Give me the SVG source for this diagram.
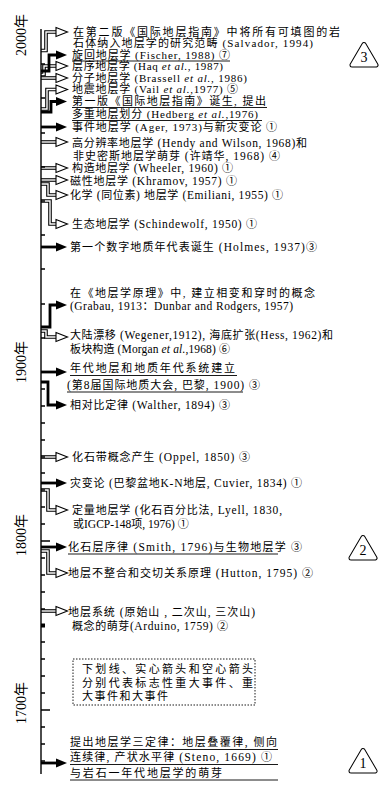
<svg xmlns="http://www.w3.org/2000/svg" xmlns:xlink="http://www.w3.org/1999/xlink" width="390" height="794" viewBox="0 0 390 794">
<style>
.t{font-family:"Liberation Serif","Noto Sans CJK SC",serif;font-size:11px;fill:#000}
.l{font-size:11.5px}
.s{font-size:11px}
.it{font-style:italic}
.yr{font-family:"Liberation Serif","Noto Sans CJK SC",serif;font-size:14px;fill:#000}
.num{font-family:"Liberation Serif",serif;font-size:14px;fill:#000}
.ax{stroke:#000;stroke-width:1.4;fill:none}
.so{stroke:#000;stroke-width:2.8;fill:none}
.ho{stroke:#000;stroke-width:3.6;fill:none}
.hi{stroke:#fff;stroke-width:1.4;fill:none}
.ul{stroke:#000;stroke-width:0.9;fill:none}
.box{fill:none;stroke:#000;stroke-width:0.9;stroke-dasharray:1.5 1.5}
.tro{fill:#fff;stroke:#000;stroke-width:5;stroke-linejoin:round}
.tri{fill:#fff;stroke:#fff;stroke-width:3;stroke-linejoin:round}
</style>
<defs>
<polygon id="hh" points="0,-4.5 11.5,0 0,4.5" fill="#fff" stroke="#000" stroke-width="1.1"/>
<polygon id="sh" points="0,-4.5 11,0 0,4.5" fill="#000"/>
<polygon id="tri" points="0,-10.5 12,10 -12,10"/>
</defs>
<rect width="390" height="794" fill="#fff"/>

<g id="year-labels">
<text class="yr" transform="translate(26,35) rotate(-90)" text-anchor="middle">2000年</text>
<text class="yr" transform="translate(26,362) rotate(-90)" text-anchor="middle">1900年</text>
<text class="yr" transform="translate(26,535) rotate(-90)" text-anchor="middle">1800年</text>
<text class="yr" transform="translate(26,703) rotate(-90)" text-anchor="middle">1700年</text>
</g>

<g id="connectors">
<g id="hollow-shafts-outer" class="ho">
<path id="c1" d="M41 50.5H46V32H56"/>
<path id="c3" d="M41 74.5H44V66H56"/>
<path id="c4" d="M41 78H56"/>
<path id="c5" d="M41 109H47V89.5H56"/>
<path id="c8" d="M41 142H56"/>
<path id="c9" d="M41 168H56"/>
<path id="c10" d="M41 180H56"/>
<path id="c11" d="M41 184H48V195H56"/>
<path id="c12" d="M41 201H50V224H56"/>
<path id="c15" d="M41 331H46V337H56"/>
<path id="c18" d="M41 457H56"/>
<path id="c20" d="M41 490H48V510H56"/>
<path id="c22" d="M41 551H48V573H56"/>
<path id="c23" d="M41 611H56"/>
</g>
<g id="hollow-shafts-inner" class="hi">
<use xlink:href="#c1"/><use xlink:href="#c3"/><use xlink:href="#c4"/><use xlink:href="#c5"/>
<use xlink:href="#c8"/><use xlink:href="#c9"/><use xlink:href="#c10"/><use xlink:href="#c11"/>
<use xlink:href="#c12"/><use xlink:href="#c15"/><use xlink:href="#c18"/><use xlink:href="#c20"/>
<use xlink:href="#c22"/><use xlink:href="#c23"/>
</g>
<g id="solid-shafts" class="so">
<path d="M41 71H49V55H56"/>
<path d="M41 112H51V101.5H56"/>
<path d="M41 127H56"/>
<path d="M41 247H56"/>
<path d="M41 327H50V305H56"/>
<path d="M41 372H56"/>
<path d="M41 382H48V405H56"/>
<path d="M41 483H56"/>
<path d="M41 547H56"/>
<path d="M41 763H56"/>
</g>
<g id="heads">
<use xlink:href="#hh" x="56" y="32"/>
<use xlink:href="#sh" x="56" y="55"/>
<use xlink:href="#hh" x="56" y="66"/>
<use xlink:href="#hh" x="56" y="78"/>
<use xlink:href="#hh" x="56" y="89.5"/>
<use xlink:href="#sh" x="56" y="101.5"/>
<use xlink:href="#sh" x="56" y="127"/>
<use xlink:href="#hh" x="56" y="142"/>
<use xlink:href="#hh" x="56" y="168"/>
<use xlink:href="#hh" x="56" y="180"/>
<use xlink:href="#hh" x="56" y="195"/>
<use xlink:href="#hh" x="56" y="224"/>
<use xlink:href="#sh" x="56" y="247"/>
<use xlink:href="#sh" x="56" y="305"/>
<use xlink:href="#hh" x="56" y="337"/>
<use xlink:href="#sh" x="56" y="372"/>
<use xlink:href="#sh" x="56" y="405"/>
<use xlink:href="#hh" x="56" y="457"/>
<use xlink:href="#sh" x="56" y="483"/>
<use xlink:href="#hh" x="56" y="510"/>
<use xlink:href="#sh" x="56" y="547"/>
<use xlink:href="#hh" x="56" y="573"/>
<use xlink:href="#hh" x="56" y="611"/>
<use xlink:href="#sh" x="56" y="763"/>
</g>
</g>

<g id="axis">
<path class="ax" d="M41 29V774"/>
<path class="ax" stroke-width="1.1" d="M41 64H45M41 98H45M41 133H45M41 167H45M41 201H45M41 235H45M41 269H45M41 304H45M41 338H45
M41 389H45M41 406H45M41 423H45M41 440H45M41 457H45M41 473H45M41 490H45M41 507H45M41 524H45M41 558H45M41 575H45M41 592H45M41 609H45M41 642H45M41 659H45M41 676H45M41 693H45M41 727H45M41 744H45M41 761H45"/>
<path class="ax" d="M41 541H50M41 710H50"/>
<rect x="41" y="623.5" width="4" height="4" fill="#000"/>
</g>

<g id="n-salvador"><text class="t" x="73" y="35.5" textLength="267" lengthAdjust="spacing">在第二版《国际地层指南》中将所有可填图的岩</text><text class="t" x="73" y="47" textLength="240" lengthAdjust="spacing">石体纳入地层学的研究范畴<tspan class="s"> (Salvador, 1994)</tspan></text></g>
<g id="n-fischer"><text class="t" x="72" y="58.5" textLength="158" lengthAdjust="spacing">旋回地层学<tspan class="s"> (Fischer, 1988) </tspan>⑦</text><path class="ul" d="M72 61H230"/></g>
<g id="n-haq"><text class="t" x="72" y="70" textLength="151" lengthAdjust="spacing">层序地层学<tspan class="s"> (Haq <tspan class="it">et al.</tspan>, 1987)</tspan></text></g>
<g id="n-brassell"><text class="t" x="72" y="81.5" textLength="175" lengthAdjust="spacing">分子地层学<tspan class="s"> (Brassell <tspan class="it">et al.</tspan>, 1986)</tspan></text></g>
<g id="n-vail"><text class="t" x="72" y="93" textLength="166" lengthAdjust="spacing">地震地层学<tspan class="s"> (Vail <tspan class="it">et al.</tspan>,1977) </tspan>⑤</text></g>
<g id="n-hedberg"><text class="t" x="72" y="105" textLength="194" lengthAdjust="spacing">第一版《国际地层指南》诞生, 提出</text><path class="ul" d="M72 107.5H267"/><text class="t" x="72" y="118" textLength="186" lengthAdjust="spacing">多重地层划分<tspan class="s"> (Hedberg <tspan class="it">et al.</tspan>,1976)</tspan></text><path class="ul" d="M72 120.5H262"/></g>
<g id="n-ager"><text class="t" x="72" y="130.5" textLength="205" lengthAdjust="spacing">事件地层学<tspan class="s"> (Ager, 1973)</tspan>与新灾变论 ①</text></g>
<g id="n-hendy"><text class="t" x="72" y="146.5" textLength="235" lengthAdjust="spacing">高分辨率地层学<tspan class="l"> (Hendy and Wilson, 1968)</tspan>和</text><text class="t" x="73" y="160" textLength="207" lengthAdjust="spacing">非史密斯地层学萌芽<tspan class="l"> (</tspan>许靖华<tspan class="l">, 1968) </tspan>④</text></g>
<g id="n-wheeler"><text class="t" x="72" y="172" textLength="161" lengthAdjust="spacing">构造地层学<tspan class="l"> (Wheeler, 1960) </tspan>①</text></g>
<g id="n-khramov"><text class="t" x="70" y="184.5" textLength="167" lengthAdjust="spacing">磁性地层学<tspan class="l"> (Khramov, 1957) </tspan>①</text></g>
<g id="n-emiliani"><text class="t" x="70" y="198.5" textLength="213" lengthAdjust="spacing">化学<tspan class="l"> (</tspan>同位素<tspan class="l">) </tspan>地层学<tspan class="l"> (Emiliani, 1955) </tspan>①</text></g>
<g id="n-schindewolf"><text class="t" x="72" y="227.5" textLength="185" lengthAdjust="spacing">生态地层学<tspan class="l"> (Schindewolf, 1950) </tspan>①</text></g>
<g id="n-holmes"><text class="t" x="70" y="250.5" textLength="247" lengthAdjust="spacing">第一个数字地质年代表诞生<tspan class="l"> (Holmes, 1937)</tspan>③</text></g>
<g id="n-grabau"><text class="t" x="70" y="296.5" textLength="245" lengthAdjust="spacing">在《地层学原理》中, 建立相变和穿时的概念</text><text class="t" x="70" y="309.5" textLength="223" lengthAdjust="spacing"><tspan class="l">(Grabau, 1913</tspan>：<tspan class="l">Dunbar and Rodgers, 1957)</tspan></text></g>
<g id="n-wegener"><text class="t" x="70" y="338.5" textLength="263" lengthAdjust="spacing">大陆漂移<tspan class="l"> (Wegener,1912), </tspan>海底扩张<tspan class="l">(Hess, 1962)</tspan>和</text><text class="t" x="70" y="352.5" textLength="160" lengthAdjust="spacing">板块构造<tspan class="l"> (Morgan <tspan class="it">et al.</tspan>,1968) </tspan>⑥</text></g>
<g id="n-1900"><text class="t" x="70" y="371.5" textLength="165" lengthAdjust="spacing">年代地层和地质年代系统建立</text><path class="ul" d="M70 375.5H237"/><text class="t" x="67" y="388.5" textLength="193" lengthAdjust="spacing"><tspan class="l">(</tspan>第<tspan class="l">8</tspan>届国际地质大会<tspan class="l">, </tspan>巴黎<tspan class="l">, 1900) </tspan>③</text><path class="ul" d="M67 392H243"/></g>
<g id="n-walther"><text class="t" x="70" y="408.5" textLength="160" lengthAdjust="spacing">相对比定律<tspan class="l"> (Walther, 1894) </tspan>③</text></g>
<g id="n-oppel"><text class="t" x="72" y="460.5" textLength="178" lengthAdjust="spacing">化石带概念产生<tspan class="l"> (Oppel, 1850) </tspan>③</text></g>
<g id="n-cuvier"><text class="t" x="70" y="486.5" textLength="232" lengthAdjust="spacing">灾变论<tspan class="l"> (</tspan>巴黎盆地<tspan class="l">K-N</tspan>地层<tspan class="l">, Cuvier, 1834) </tspan>①</text></g>
<g id="n-lyell"><text class="t" x="72" y="513.5" textLength="210" lengthAdjust="spacing">定量地层学<tspan class="l"> (</tspan>化石百分比法<tspan class="l">, Lyell, 1830,</tspan></text><text class="t" x="73" y="527.5">或<tspan class="l">IGCP-148</tspan>项<tspan class="l">, 1976) </tspan>①</text></g>
<g id="n-smith"><text class="t" x="68" y="550.5" textLength="234" lengthAdjust="spacing">化石层序律<tspan class="l"> (Smith, 1796)</tspan>与生物地层学 ③</text><path class="ul" d="M68 554H278"/></g>
<g id="n-hutton"><text class="t" x="68" y="576.5" textLength="245" lengthAdjust="spacing">地层不整合和交切关系原理<tspan class="l"> (Hutton, 1795) </tspan>②</text></g>
<g id="n-arduino"><text class="t" x="68" y="615.5" textLength="187" lengthAdjust="spacing">地层系统<tspan class="l"> (</tspan>原始山<tspan class="l"> , </tspan>二次山<tspan class="l">, </tspan>三次山<tspan class="l">)</tspan></text><text class="t" x="72" y="629.5" textLength="156" lengthAdjust="spacing">概念的萌芽<tspan class="l">(Arduino, 1759) </tspan>②</text></g>
<g id="n-legend"><rect class="box" x="73" y="659" width="182" height="46"/><text class="t" x="82" y="672.5" textLength="171" lengthAdjust="spacing">下划线、实心箭头和空心箭头</text><text class="t" x="82" y="686.5" textLength="171" lengthAdjust="spacing">分别代表标志性重大事件、重</text><text class="t" x="82" y="700" textLength="86" lengthAdjust="spacing">大事件和大事件</text></g>
<g id="n-steno"><text class="t" x="70" y="745.5" textLength="207" lengthAdjust="spacing">提出地层学三定律：地层叠覆律<tspan class="l">, </tspan>侧向</text><path class="ul" d="M70 749.5H278"/><text class="t" x="70" y="760.5" textLength="202" lengthAdjust="spacing">连续律<tspan class="l">, </tspan>产状水平律<tspan class="l"> (Steno, 1669) </tspan>①</text><path class="ul" d="M70 764.5H278"/><text class="t" x="70" y="776.5" textLength="152" lengthAdjust="spacing">与岩石一年代地层学的萌芽</text><path class="ul" d="M70 780H278"/></g>

<g id="stage-3"><use xlink:href="#tri" class="tro" transform="translate(364,55)"/><use xlink:href="#tri" class="tri" transform="translate(364,55)"/><text class="num" x="364" y="62" text-anchor="middle">3</text></g>
<g id="stage-2"><use xlink:href="#tri" class="tro" transform="translate(363,548)"/><use xlink:href="#tri" class="tri" transform="translate(363,548)"/><text class="num" x="363" y="555" text-anchor="middle">2</text></g>
<g id="stage-1"><use xlink:href="#tri" class="tro" transform="translate(363,761)"/><use xlink:href="#tri" class="tri" transform="translate(363,761)"/><text class="num" x="363" y="768" text-anchor="middle">1</text></g>
</svg>
